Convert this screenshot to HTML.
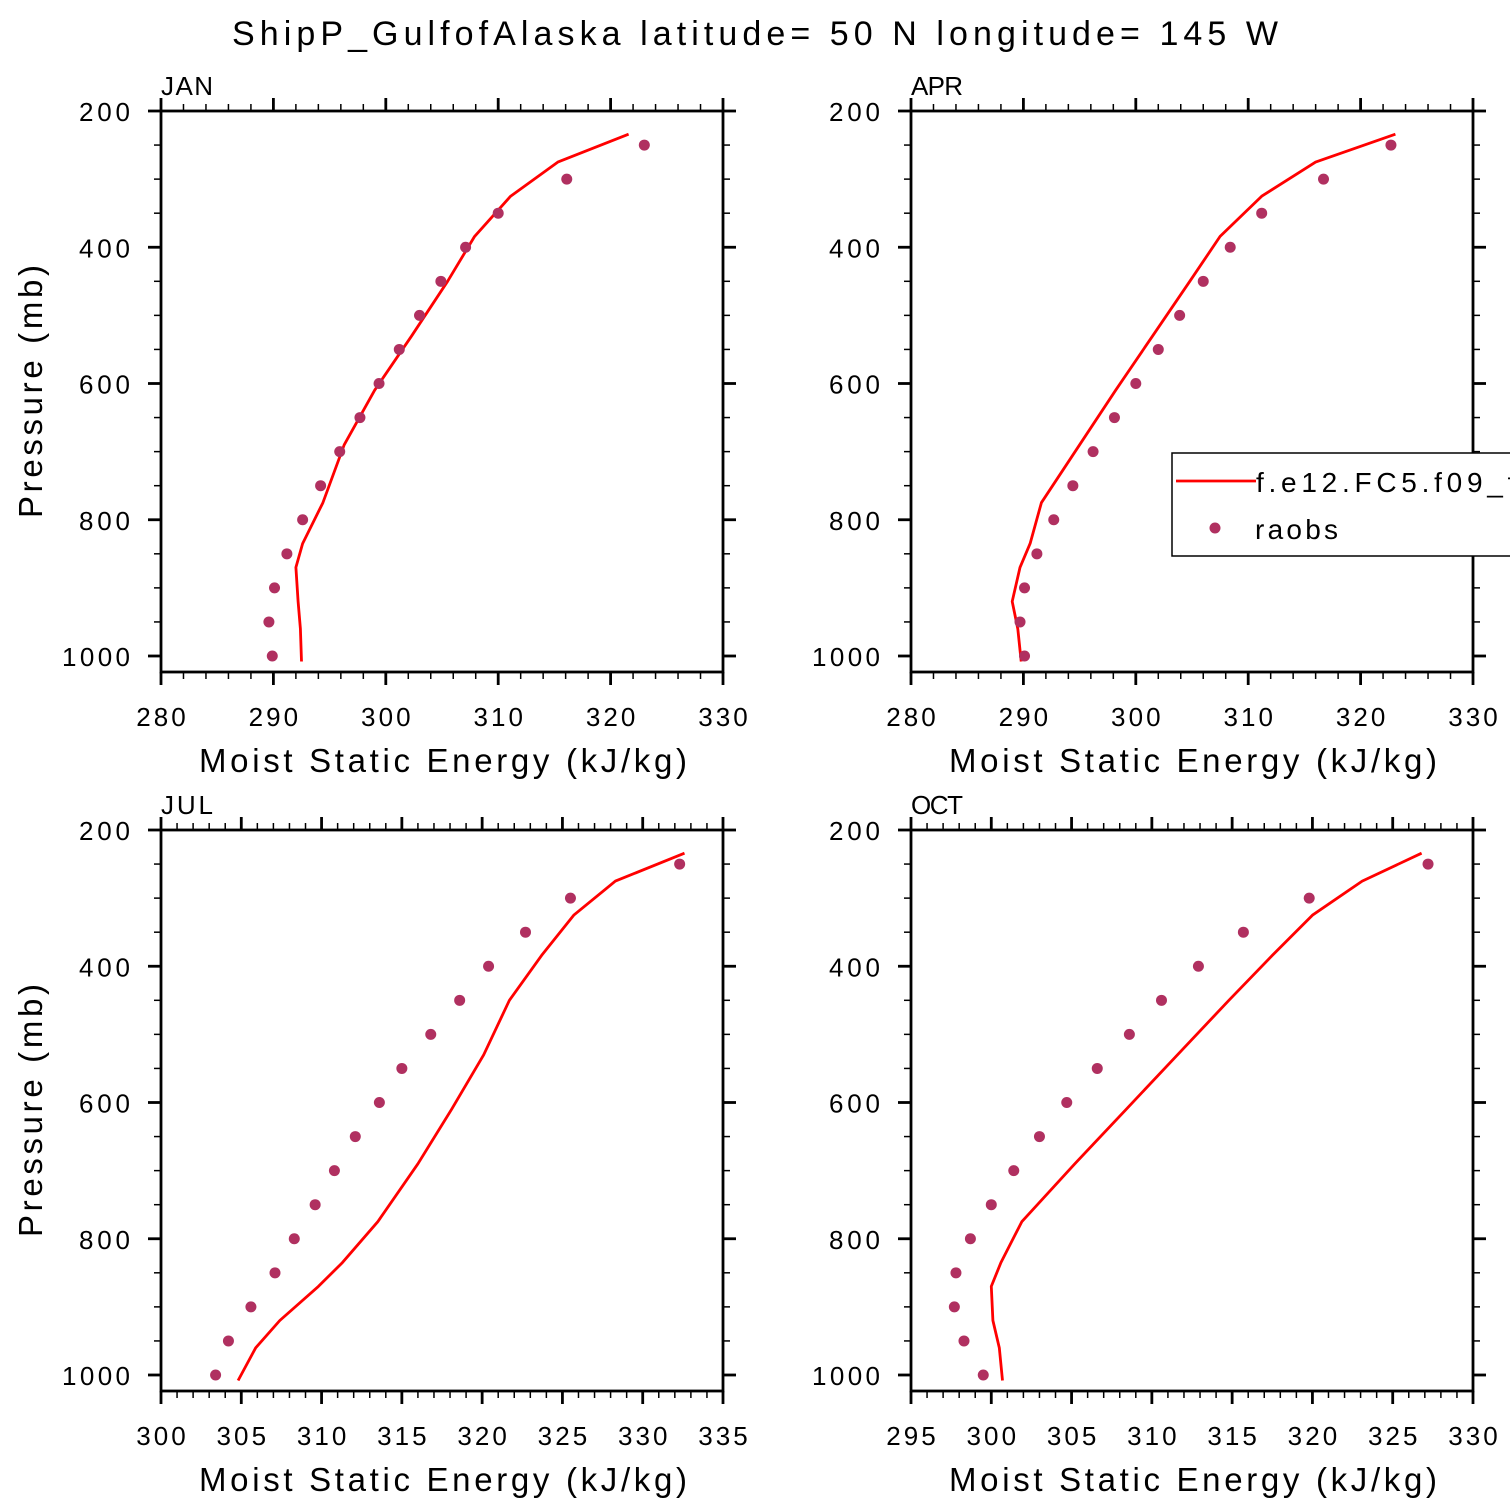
<!DOCTYPE html>
<html><head><meta charset="utf-8"><style>
html,body{margin:0;padding:0;background:#fff}
svg{display:block;font-family:"Liberation Sans",sans-serif}
</style></head><body>
<svg id="c" width="1510" height="1510" viewBox="0 0 1510 1510" xmlns="http://www.w3.org/2000/svg">
<text x="232" y="45" textLength="1046" lengthAdjust="spacing" font-size="34" fill="#000">ShipP_GulfofAlaska  latitude= 50 N longitude= 145 W</text>
</svg>
<script>
const obsP = [250,300,350,400,450,500,550,600,650,700,750,800,850,900,950,1000];
const modP = [234,275,325,384,450,530,610,690,775,835,870,920,960,1008];
const panelNames = ["JAN","APR","JUL","OCT"];
const janObs = [323.0,316.1,310.0,307.1,304.9,303.0,301.2,299.4,297.7,295.9,294.2,292.6,291.2,290.1,289.6,289.9];
const janMod = [321.6,315.3,311.1,307.9,305.5,302.3,299.0,296.3,294.4,292.6,292.0,292.2,292.4,292.5];
const aprObs = [322.7,316.7,311.2,308.4,306.0,303.9,302.0,300.0,298.1,296.2,294.4,292.7,291.2,290.1,289.7,290.1];
const aprMod = [323.1,316.0,311.2,307.5,304.8,301.5,298.2,295.0,291.6,290.6,289.7,289.0,289.5,289.8];
const julObs = [332.3,325.5,322.7,320.4,318.6,316.8,315.0,313.6,312.1,310.8,309.6,308.3,307.1,305.6,304.2,303.4];
const julMod = [332.6,328.3,325.7,323.7,321.7,320.1,318.1,316.0,313.5,311.3,309.8,307.4,305.9,304.8];
const octObs = [327.2,319.8,315.7,312.9,310.6,308.6,306.6,304.7,303.0,301.4,300.0,298.7,297.8,297.7,298.3,299.5];
const octMod = [326.8,323.1,320.0,317.5,314.8,311.6,308.4,305.2,301.9,300.6,300.0,300.1,300.5,300.7];
const xMins = [280,280,300,295];
const xMaxs = [330,330,335,330];
const xMajorStep = [10,10,5,5];
const xMinorStep = [2,2,1,1];
const yTicks = [200,400,600,800,1000];

const svg = document.getElementById('c');
const NS = "http://www.w3.org/2000/svg";
function mk(tag, attrs, parent){const e=document.createElementNS(NS,tag);for(const k in attrs)e.setAttribute(k,attrs[k]);(parent||svg).appendChild(e);return e;}

const obsAll=[janObs,aprObs,julObs,octObs], modAll=[janMod,aprMod,julMod,octMod];
const lefts=[161,911,161,911], tops=[111,111,830,830];
const W=562, PX_MB=545/800, H=561;

for(let i=0;i<4;i++){
  const L=lefts[i], T=tops[i], R=L+W, B=T+H;
  const xs=v=>L+(v-xMins[i])/(xMaxs[i]-xMins[i])*W;
  const ys=p=>T+(p-200)*PX_MB;
  const g=mk('g',{});
  
  
  let d='';
  modAll[i].forEach((v,k)=>{d+=(k?'L':'M')+xs(v).toFixed(1)+' '+ys(modP[k]).toFixed(1);});
  const ln=mk('path',{d:d,fill:'none',stroke:'#ff0000','stroke-width':2.8,'stroke-linejoin':'round'},g);
  
  
  obsAll[i].forEach((v,k)=>{
    const c=mk('circle',{cx:xs(v),cy:ys(obsP[k]),r:5.5,fill:'#b03060'},g);
    
    
  });
  const fr=mk('rect',{x:L,y:T,width:W,height:H,fill:'none',stroke:'#000','stroke-width':2.8},g);
  
  
  for(let v=xMins[i];v<=xMaxs[i]+1e-6;v+=xMinorStep[i]){
    const maj=Math.abs((v-xMins[i])/xMajorStep[i]-Math.round((v-xMins[i])/xMajorStep[i]))<1e-6;
    const len=maj?13:7, x=xs(v), sw=maj?2.8:1.5;
    mk('line',{x1:x,y1:B,x2:x,y2:B+len,stroke:'#000','stroke-width':sw},g);
    mk('line',{x1:x,y1:T,x2:x,y2:T-len,stroke:'#000','stroke-width':sw},g);
    if(maj){const s=String(v), w=s.length*16.5;
      const t=mk('text',{x:x-w/2,y:B+54,'font-size':26,textLength:w,lengthAdjust:'spacing'},g);t.textContent=s;
      
      }
  }
  for(let p=200;p<=1000;p+=50){
    const maj=yTicks.includes(p), len=maj?13:7, y=ys(p), sw=maj?2.8:1.5;
    mk('line',{x1:L,y1:y,x2:L-len,y2:y,stroke:'#000','stroke-width':sw},g);
    mk('line',{x1:R,y1:y,x2:R+len,y2:y,stroke:'#000','stroke-width':sw},g);
    if(maj){const s=String(p), w=s.length*17;
      const t=mk('text',{x:L-31-w,y:y+10,'font-size':26,textLength:w,lengthAdjust:'spacing'},g);t.textContent=s;
      
      }
  }
  const mt=mk('text',{x:L,y:T-16,'font-size':26,textLength:52,lengthAdjust:'spacing'},g);mt.textContent=panelNames[i];
  
  
  const xt=mk('text',{x:L+38,y:B+100,'font-size':33,textLength:488,lengthAdjust:'spacing'},g);xt.textContent='Moist Static Energy (kJ/kg)';
  
  
  if(L<500){
    const yt=mk('text',{x:-126,y:0,'font-size':33,textLength:253,lengthAdjust:'spacing',transform:`translate(42 ${T+281}) rotate(-90)`},g);yt.textContent='Pressure (mb)';
    
    
  }
}
const lg=mk('g',{});


mk('rect',{x:1172,y:453,width:360,height:103,fill:'#fff',stroke:'#000','stroke-width':1.5},lg);
mk('line',{x1:1176,y1:481,x2:1256,y2:481,stroke:'#ff0000','stroke-width':2.8},lg);
const l1=mk('text',{x:1256,y:492,'font-size':28,textLength:300,lengthAdjust:'spacing'},lg);l1.textContent='f.e12.FC5.f09_f09';


mk('circle',{cx:1215,cy:528,r:5.5,fill:'#b03060'},lg);
const l2=mk('text',{x:1255,y:539,'font-size':28,textLength:83,lengthAdjust:'spacing'},lg);l2.textContent='raobs';


</script>
</body></html>
